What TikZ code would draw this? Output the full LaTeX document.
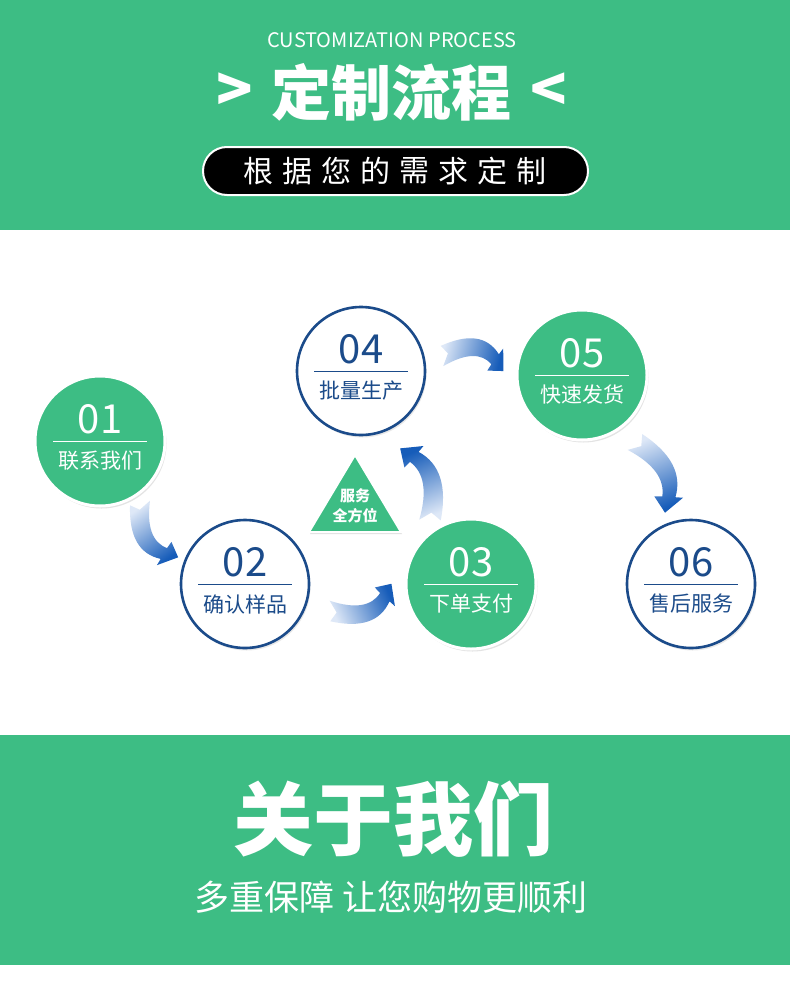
\documentclass[tikz,border=0pt]{standalone}
\usepackage{fontspec}
\setmainfont{Noto Sans CJK SC}
\usetikzlibrary{shadows,calc}
\definecolor{grn}{RGB}{61,189,132}
\definecolor{navy}{RGB}{27,75,138}
\definecolor{arrdark}{RGB}{22,92,185}
\definecolor{arrlight}{RGB}{222,232,247}
\tikzset{
  gcirc/.style={circle, minimum size=130, inner sep=0, fill=grn, draw=white, line width=3,
    drop shadow={shadow xshift=1.5pt, shadow yshift=-2.5pt, opacity=0.22}},
  wcirc/.style={circle, minimum size=128, inner sep=0, fill=white, draw=navy, line width=2.6,
    drop shadow={shadow xshift=1.5pt, shadow yshift=-2.5pt, opacity=0.18}},
  numtxt/.style={inner sep=0, font=\fontsize{40}{40}\selectfont},
  labtxt/.style={inner sep=0, font=\fontsize{21}{21}\selectfont},
  plain/.style={inner sep=0, text=white},
}
\newcommand\bendarrow[5]{%
  \pgfmathsetmacro\rotang{-(#3)}%
  \pgfmathsetmacro\shadeang{-(#3)-90}%
  \begin{scope}[shift={(#1,#2)}, rotate=\rotang, xscale=#4, yscale=#5]
    \shade[top color=arrdark, bottom color=arrlight, shading angle=\shadeang]
      (4.6,-8.5) .. controls (28.2,7.5) and (47.7,11.2) .. (63.2,3.4)
      -- (60.1,-3.0) -- (80,0) -- (73.0,19.5) -- (69.4,13.6)
      .. controls (49.8,27.0) and (25.1,25.0) .. (-4.6,8.5)
      -- (6.5,3.6) -- cycle;
  \end{scope}}
\begin{document}
\begin{tikzpicture}[x=1pt,y=-1pt]
  \path[use as bounding box, fill=white] (0,0) rectangle (790,985);
  % top band
  \fill[grn] (0,0) rectangle (790,230);
  \node[plain, font=\fontsize{20}{20}\selectfont] (sub) at (392,40) {CUSTOMIZATION PROCESS};
  \node[plain, font=\fontsize{60}{60}\bfseries\selectfont] (gt) at (235,92) {>};
  \node[plain, font=\fontsize{60}{60}\bfseries\selectfont] (title) at (391,92) {定制流程};
  \node[plain, font=\fontsize{60}{60}\bfseries\selectfont] (lt) at (549,92) {<};
  \node[draw=white, line width=2, fill=black, rounded corners=24, minimum width=385, minimum height=48, inner sep=0] (pill) at (395.5,171) {};
  \foreach \ch [count=\i from 0] in {根,据,您,的,需,求,定,制}
    \node[plain, font=\fontsize{30}{30}\selectfont] (p\i) at ({395+(\i-3.5)*39},171) {\ch};
  % bottom band
  \fill[grn] (0,735) rectangle (790,965);
  \node[plain, font=\fontsize{80}{80}\bfseries\selectfont] (about) at (393,819) {关于我们};
  \node[plain, font=\fontsize{35}{35}\selectfont] (slogan) at (391,897) {多重保障 让您购物更顺利};
  % arrows
  \bendarrow{140}{503}{54.9}{0.83}{1.12}
  \bendarrow{330}{611}{-23.9}{0.84}{1.12}
  \bendarrow{430}{520}{-112.6}{0.97}{1.15}
  \bendarrow{442}{356}{13.8}{0.79}{-1.12}
  \bendarrow{635}{442}{67}{0.96}{-1.15}
  % triangle
  \filldraw[fill=grn, draw=white, line width=2, drop shadow={shadow xshift=1pt, shadow yshift=-2pt, opacity=0.25}]
    (355,455) -- (401,532) -- (309,532) -- cycle;
  \node[plain, font=\fontsize{15}{15}\bfseries\selectfont] (tri1) at (355,496) {服务};
  \node[plain, font=\fontsize{15}{15}\bfseries\selectfont] (tri2) at (355,516) {全方位};
  % circles
  \node[gcirc] (c1) at (100,441) {};
  \node[wcirc] (c2) at (245,584) {};
  \node[gcirc] (c3) at (471,584) {};
  \node[wcirc] (c4) at (361,371) {};
  \node[gcirc] (c5) at (582,375) {};
  \node[wcirc] (c6) at (691,584) {};
  \foreach \c/\n/\l/\col in {c1/01/联系我们/white, c2/02/确认样品/navy, c3/03/下单支付/white,
                             c4/04/批量生产/navy, c5/05/快速发货/white, c6/06/售后服务/navy} {
    \draw[\col, line width=1] ($(\c)+(-47,0)$) -- ($(\c)+(47,0)$);
    \node[numtxt, text=\col] (\c n) at ($(\c)+(0,-22)$) {\n};
    \node[labtxt, text=\col] (\c l) at ($(\c)+(0,20)$) {\l};
  }
\end{tikzpicture}
\end{document}
